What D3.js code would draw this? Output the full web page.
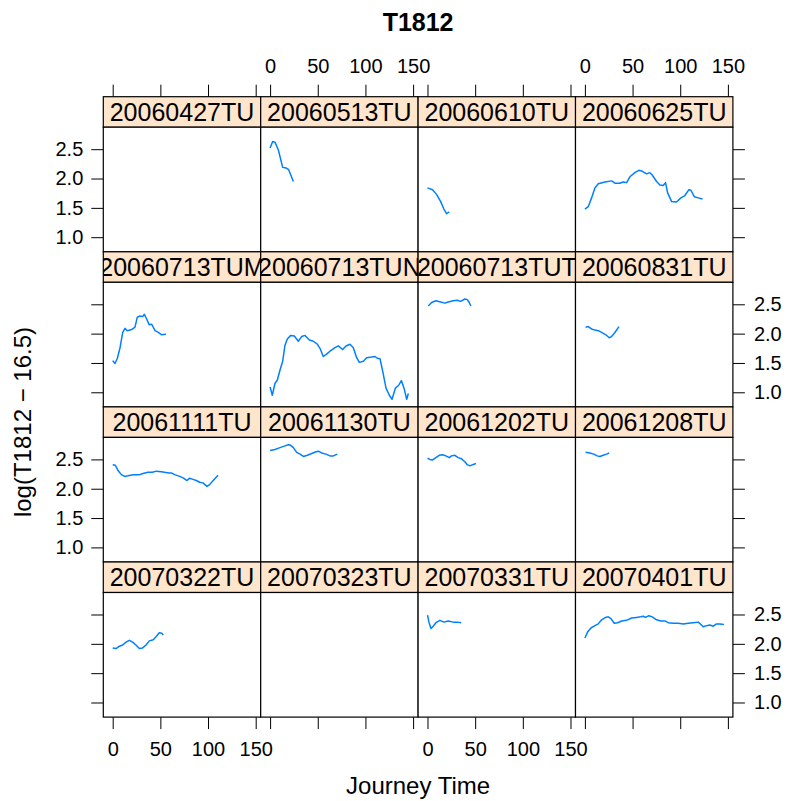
<!DOCTYPE html>
<html>
<head>
<meta charset="utf-8">
<script src="https://cdn.jsdelivr.net/npm/d3@7"></script>
<style>
  body { margin: 0; background: #fff; }
  text { font-family: "Liberation Sans", Arial, Helvetica, sans-serif; }
</style>
</head>
<body>
<div id="chart"></div>
<script>
// panel names, in display order (top-left first)
const panelNames = [
  "20060427TU", "20060513TU", "20060610TU", "20060625TU",
  "20060713TUM", "20060713TUN", "20060713TUT", "20060831TU",
  "20061111TU", "20061130TU", "20061202TU", "20061208TU",
  "20070322TU", "20070323TU", "20070331TU", "20070401TU"
];

const xTicks = [0, 50, 100, 150];
const yTicks = [1.0, 1.5, 2.0, 2.5];

// journey time / log(T1812 - 16.5) per journey
const t_20060513 = [0, 2.7, 5.1, 8.6, 13.2, 16.7, 19.5, 24.4];
const v_20060513 = [2.52, 2.63, 2.62, 2.49, 2.19, 2.18, 2.15, 1.95];

const t_20060610 = [0, 5.3, 9.5, 13.7, 17.2, 20.0, 22.8];
const v_20060610 = [1.84, 1.81, 1.73, 1.61, 1.48, 1.40, 1.43];

const t_20060625 = [0, 3.5, 7.0, 10.5, 14.0, 21.0, 28.0, 31.5, 36.7, 40.2, 43.7, 47.2, 52.4, 56.6, 59.4, 64.7,
  68.2, 70.6, 75.2, 78.7, 82.2, 84.6, 86.7, 90.9, 96.1, 100.7, 104.9, 109.1, 111.2, 114.7, 118.9, 123.4];
const v_20060625 = [1.48, 1.52, 1.67, 1.84, 1.91, 1.94, 1.96, 1.92, 1.92, 1.94, 1.93, 2.03, 2.10, 2.14, 2.13, 2.08,
  2.10, 2.06, 1.95, 1.89, 1.88, 1.93, 1.76, 1.61, 1.60, 1.67, 1.71, 1.81, 1.80, 1.69, 1.67, 1.65];

const t_20060713TUM = [0, 2.4, 4.9, 7.7, 10.5, 12.9, 15.3, 19.9, 23.4, 25.8, 28.6, 31.4, 33.2, 35.6, 38.4, 40.9,
  44.4, 47.9, 51.4, 55.9];
const v_20060713TUM = [1.54, 1.49, 1.58, 1.76, 2.02, 2.09, 2.05, 2.07, 2.11, 2.28, 2.30, 2.29, 2.33, 2.25, 2.15, 2.16,
  2.05, 2.02, 1.98, 1.99];

const t_20060713TUN = [0, 2.3, 5.1, 7.6, 10.4, 13.2, 15.6, 18.1, 21.6, 25.4, 29.6, 33.1, 36.6, 41.2, 45.3, 49.5,
  52.3, 55.8, 59.3, 62.8, 68.1, 71.6, 76.1, 79.6, 83.8, 87.3, 90.8, 93.6, 97.8, 101.3, 106.5, 110.0, 112.5, 115.3,
  118.1, 121.6, 125.1, 127.9, 131.4, 134.9, 137.7, 140.5, 143.3, 145.0];
const v_20060713TUN = [1.09, 0.95, 1.15, 1.21, 1.38, 1.53, 1.80, 1.91, 1.97, 1.96, 1.87, 1.95, 1.97, 1.89, 1.87, 1.82,
  1.75, 1.61, 1.65, 1.70, 1.76, 1.79, 1.73, 1.79, 1.82, 1.76, 1.59, 1.51, 1.53, 1.59, 1.60, 1.61, 1.58, 1.57,
  1.36, 1.07, 0.95, 0.88, 1.07, 1.12, 1.20, 1.07, 0.88, 0.98];

const t_20060713TUT = [0.8, 4.3, 8.8, 13.7, 18.3, 21.7, 27.0, 31.2, 34.7, 39.2, 41.7, 43.8, 45.5];
const v_20060713TUT = [2.47, 2.53, 2.56, 2.54, 2.52, 2.54, 2.56, 2.57, 2.55, 2.59, 2.58, 2.53, 2.47];

const t_20060831 = [0.7, 3.5, 7.0, 10.5, 14.0, 17.5, 22.0, 25.5, 28.0, 31.5, 35.7];
const v_20060831 = [2.11, 2.12, 2.08, 2.06, 2.05, 2.02, 1.98, 1.93, 1.95, 2.02, 2.12];

const t_20061111 = [0, 2.8, 5.6, 9.1, 12.6, 16.0, 21.3, 28.3, 31.8, 37.0, 41.6, 45.8, 51.0, 54.5, 59.1, 61.5,
  65.0, 70.3, 74.4, 77.9, 80.7, 84.2, 87.7, 91.2, 94.7, 98.9, 101.7, 105.9, 110.5];
const v_20061111 = [2.41, 2.40, 2.31, 2.24, 2.21, 2.22, 2.24, 2.24, 2.26, 2.28, 2.28, 2.30, 2.29, 2.28, 2.27, 2.27,
  2.24, 2.21, 2.18, 2.14, 2.18, 2.16, 2.14, 2.11, 2.10, 2.04, 2.07, 2.15, 2.23];

const t_20061130 = [0, 5.1, 10.4, 15.6, 19.1, 21.6, 24.4, 27.9, 31.4, 34.9, 39.1, 43.6, 48.2, 50.6, 54.1, 58.6,
  62.8, 66.3, 70.5];
const v_20061130 = [2.65, 2.67, 2.70, 2.73, 2.75, 2.74, 2.70, 2.62, 2.59, 2.55, 2.57, 2.60, 2.63, 2.64, 2.61, 2.59,
  2.56, 2.56, 2.59];

const t_20061202 = [0, 2.5, 5.3, 8.8, 12.3, 15.8, 19.3, 22.8, 25.2, 28.7, 32.2, 35.7, 39.2, 41.7, 44.5, 47.3, 50.8];
const v_20061202 = [2.52, 2.50, 2.49, 2.53, 2.57, 2.58, 2.56, 2.53, 2.56, 2.57, 2.53, 2.51, 2.46, 2.41, 2.39, 2.41, 2.43];

const t_20061208 = [0.7, 5.2, 9.4, 12.9, 15.7, 19.2, 22.7, 25.5];
const v_20061208 = [2.62, 2.61, 2.59, 2.56, 2.55, 2.57, 2.59, 2.61];

const t_20070322 = [0, 3.5, 7.0, 10.5, 14.0, 17.4, 20.9, 24.4, 27.9, 31.4, 34.9, 38.4, 42.6, 45.4, 48.9, 51.4, 53.1];
const v_20070322 = [1.93, 1.92, 1.96, 1.98, 2.03, 2.06, 2.03, 1.98, 1.92, 1.93, 1.98, 2.05, 2.07, 2.12, 2.19, 2.18, 2.15];

const t_20070331 = [0, 1.5, 3.6, 6.0, 8.8, 13.0, 17.2, 21.7, 27.0, 31.2, 35.4];
const v_20070331 = [2.49, 2.37, 2.26, 2.30, 2.36, 2.40, 2.37, 2.39, 2.37, 2.37, 2.36];

const t_20070401 = [0, 2.8, 6.3, 10.5, 14.0, 17.5, 21.7, 24.5, 27.3, 30.8, 34.3, 38.5, 43.7, 49.0, 54.2, 58.7,
  61.2, 63.6, 67.1, 70.6, 75.2, 79.7, 83.9, 87.4, 92.7, 97.9, 103.2, 108.4, 113.6, 118.9, 121.7, 124.1, 127.6,
  131.1, 134.6, 138.1, 141.6, 145.8];
const v_20070401 = [2.10, 2.20, 2.27, 2.31, 2.34, 2.41, 2.45, 2.46, 2.43, 2.35, 2.36, 2.39, 2.40, 2.44, 2.45, 2.46,
  2.47, 2.45, 2.48, 2.46, 2.41, 2.39, 2.39, 2.36, 2.35, 2.35, 2.34, 2.35, 2.36, 2.37, 2.33, 2.29, 2.31,
  2.32, 2.30, 2.34, 2.34, 2.33];

// pair them up by panel name (empty panels have no entry)
const seriesByPanel = new Map([
  ["20060513TU", [t_20060513, v_20060513]],
  ["20060610TU", [t_20060610, v_20060610]],
  ["20060625TU", [t_20060625, v_20060625]],
  ["20060713TUM", [t_20060713TUM, v_20060713TUM]],
  ["20060713TUN", [t_20060713TUN, v_20060713TUN]],
  ["20060713TUT", [t_20060713TUT, v_20060713TUT]],
  ["20060831TU", [t_20060831, v_20060831]],
  ["20061111TU", [t_20061111, v_20061111]],
  ["20061130TU", [t_20061130, v_20061130]],
  ["20061202TU", [t_20061202, v_20061202]],
  ["20061208TU", [t_20061208, v_20061208]],
  ["20070322TU", [t_20070322, v_20070322]],
  ["20070331TU", [t_20070331, v_20070331]],
  ["20070401TU", [t_20070401, v_20070401]]
]);

// layout
const width = 791, height = 801;
const left = 103.3, top0 = 96.7;
const panelW = 157.4, stripH = 30.5, panelH = 124.6;
const rowStep = stripH + panelH;
const nCol = 4, nRow = 4;
const tickLen = 12;
const lineColor = "#0080ff";
const stripColor = "#ffe5cc";
const fontFamily = '"Liberation Sans", Arial, Helvetica, sans-serif';

const svg = d3.select("#chart")
  .append("svg")
  .attr("width", width)
  .attr("height", height);

const x = d3.scaleLinear().domain([-9.86, 155.25]).range([0, panelW]);
const y = d3.scaleLinear().domain([0.751, 2.875]).range([panelH, 0]);

const line = d3.line()
  .x(d => x(d[0]))
  .y(d => y(d[1]));

const defs = svg.append("defs");

function styleAxis(g) {
  g.select(".domain").remove();
  g.attr("font-family", fontFamily).attr("font-size", 20);
  g.selectAll(".tick line").attr("stroke", "#000").attr("stroke-width", 1);
  g.selectAll(".tick text").attr("fill", "#000");
}

panelNames.forEach((name, i) => {
  const col = i % nCol;
  const row = Math.floor(i / nCol);
  const gx = left + col * panelW;
  const stripY = top0 + row * rowStep;
  const panelY = stripY + stripH;

  // axes on the outer sides; labels alternate like lattice
  if (row === 0) {
    svg.append("g")
      .attr("transform", `translate(${gx},${stripY})`)
      .call(d3.axisTop(x).tickValues(xTicks).tickSize(tickLen).tickPadding(12)
        .tickFormat(col % 2 === 1 ? d3.format("d") : () => ""))
      .call(styleAxis);
  }
  if (row === nRow - 1) {
    svg.append("g")
      .attr("transform", `translate(${gx},${panelY + panelH})`)
      .call(d3.axisBottom(x).tickValues(xTicks).tickSize(tickLen).tickPadding(13)
        .tickFormat(col % 2 === 0 ? d3.format("d") : () => ""))
      .call(styleAxis);
  }
  if (col === 0) {
    svg.append("g")
      .attr("transform", `translate(${gx},${panelY})`)
      .call(d3.axisLeft(y).tickValues(yTicks).tickSize(tickLen).tickPadding(8)
        .tickFormat(row % 2 === 0 ? d3.format(".1f") : () => ""))
      .call(styleAxis);
  }
  if (col === nCol - 1) {
    svg.append("g")
      .attr("transform", `translate(${gx + panelW},${panelY})`)
      .call(d3.axisRight(y).tickValues(yTicks).tickSize(tickLen).tickPadding(9)
        .tickFormat(row % 2 === 1 ? d3.format(".1f") : () => ""))
      .call(styleAxis);
  }

  // strip
  defs.append("clipPath").attr("id", `strip-clip-${i}`)
    .append("rect").attr("x", 0).attr("y", 0).attr("width", panelW).attr("height", stripH);

  const strip = svg.append("g").attr("transform", `translate(${gx},${stripY})`);
  strip.append("rect")
    .attr("width", panelW)
    .attr("height", stripH)
    .attr("fill", stripColor);
  strip.append("text")
    .attr("clip-path", `url(#strip-clip-${i})`)
    .attr("x", panelW / 2)
    .attr("y", 24.3)
    .attr("text-anchor", "middle")
    .attr("font-size", 25)
    .attr("fill", "#000")
    .text(name);
  strip.append("rect")
    .attr("width", panelW)
    .attr("height", stripH)
    .attr("fill", "none")
    .attr("stroke", "#000")
    .attr("stroke-width", 1.2);

  // panel
  defs.append("clipPath").attr("id", `panel-clip-${i}`)
    .append("rect").attr("x", 0).attr("y", 0).attr("width", panelW).attr("height", panelH);

  const panel = svg.append("g").attr("transform", `translate(${gx},${panelY})`);
  panel.append("rect")
    .attr("width", panelW)
    .attr("height", panelH)
    .attr("fill", "#fff");

  const s = seriesByPanel.get(name);
  if (s) {
    const pts = s[0].map((t, k) => [t, s[1][k]]);
    panel.append("path")
      .datum(pts)
      .attr("clip-path", `url(#panel-clip-${i})`)
      .attr("fill", "none")
      .attr("stroke", lineColor)
      .attr("stroke-width", 1.5)
      .attr("stroke-linejoin", "round")
      .attr("d", line);
  }

  panel.append("rect")
    .attr("width", panelW)
    .attr("height", panelH)
    .attr("fill", "none")
    .attr("stroke", "#000")
    .attr("stroke-width", 1.2);
});

// title and axis labels
const midX = left + nCol * panelW / 2;

svg.append("text")
  .attr("x", midX)
  .attr("y", 31)
  .attr("text-anchor", "middle")
  .attr("font-size", 25)
  .attr("font-weight", "bold")
  .text("T1812");

svg.append("text")
  .attr("x", midX)
  .attr("y", 794)
  .attr("text-anchor", "middle")
  .attr("font-size", 24)
  .text("Journey Time");

svg.append("text")
  .attr("transform", "translate(31,422) rotate(-90)")
  .attr("text-anchor", "middle")
  .attr("font-size", 24)
  .text("log(T1812 \u2212 16.5)");
</script>
</body>
</html>
